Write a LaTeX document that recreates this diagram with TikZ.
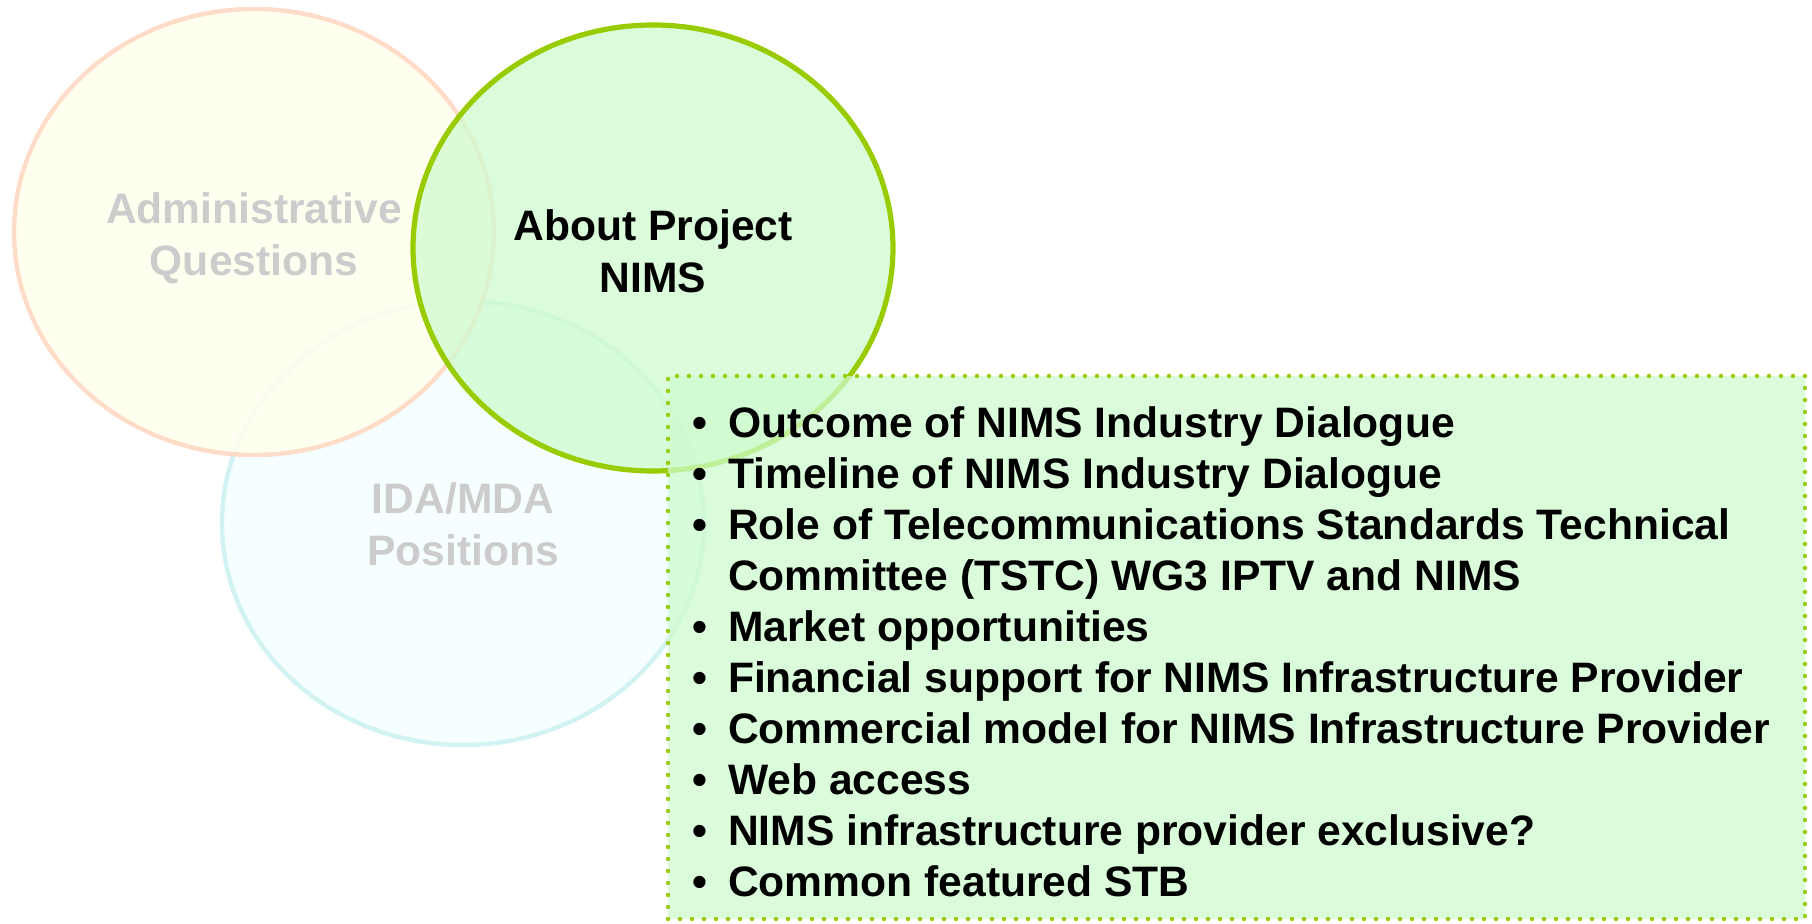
\documentclass[tikz,border=0pt]{standalone}
\usepackage{fontspec}
\setmainfont{Liberation Sans}
\usetikzlibrary{shapes.geometric,positioning}
\definecolor{admfill}{HTML}{FFFFED}
\definecolor{admline}{HTML}{FFD6C0}
\definecolor{idafill}{HTML}{F5FFFF}
\definecolor{idaline}{HTML}{D3F2F2}
\definecolor{nimsfill}{HTML}{CEFBCE}
\definecolor{nimsline}{HTML}{99CC00}
\definecolor{fadetext}{HTML}{CCCCCC}

\begin{document}
\begin{tikzpicture}
        [x=0.5pt,y=-0.5pt]
            \tikzstyle{every node}=[font=\fontsize{21.3}{25.5}\selectfont\bfseries,
        align=center, inner sep=0pt]
            \tikzstyle{bubble}=[ellipse, line width=2.2pt]
            \tikzstyle{bubbletext}=[font=\fontsize{21.3}{26.1}\selectfont\bfseries]
        \useasboundingbox (0,0) rectangle (1812,924);
        %-----circles
         \node[bubble, draw=idaline, fill=idafill,
               minimum width=241pt, minimum height=222pt]  (IDA) at (463,523) {};
         \node[bubbletext, text=fadetext]  (IDAtext) at ([yshift=-0.5pt]IDA.center) {IDA/MDA\\Positions};
         \node[bubble, draw=admline, fill=admfill, fill opacity=0.85, draw opacity=0.85,
               minimum width=240pt, minimum height=223pt]  (ADM) at (254,232) {};
         \node[bubbletext, text=fadetext]  (ADMtext) at ([yshift=-3.3pt]ADM.center) {Administrative\\Questions};
         \node[bubble, draw=nimsline, fill=nimsfill, fill opacity=0.75, draw opacity=1,
               line width=2.6pt, minimum width=240pt, minimum height=223pt]  (NIMS) at (653,248) {};
         \node[bubbletext, text=black]  (NIMStext) at ([yshift=-1.5pt]NIMS.center) {About Project\\NIMS};

        %-----topics
         \node[draw=nimsline, fill=nimsfill, fill opacity=0.75, line width=2.2pt,
               dash pattern=on 0pt off 6pt, line cap=round,
               minimum width=568.5pt, minimum height=271.5pt]  (box) at (1236.5,647.5) {};
         \node[anchor=base west, align=left]  (list) at ([xshift=13.2pt,yshift=-31.8pt]box.north west)
         {\begin{tabular}[t]{@{}l@{\hspace{10.3pt}}l@{}}
          \textbullet & Outcome of NIMS Industry Dialogue\\
          \textbullet & Timeline of NIMS Industry Dialogue\\
          \textbullet & Role of Telecommunications Standards Technical\\
                      & Committee (TSTC) WG3 IPTV and NIMS\\
          \textbullet & Market opportunities\\
          \textbullet & Financial support for NIMS Infrastructure Provider\\
          \textbullet & Commercial model for NIMS Infrastructure Provider\\
          \textbullet & Web access\\
          \textbullet & NIMS infrastructure provider exclusive?\\
          \textbullet & Common featured STB
          \end{tabular}};
        \end{tikzpicture}
\end{document}
